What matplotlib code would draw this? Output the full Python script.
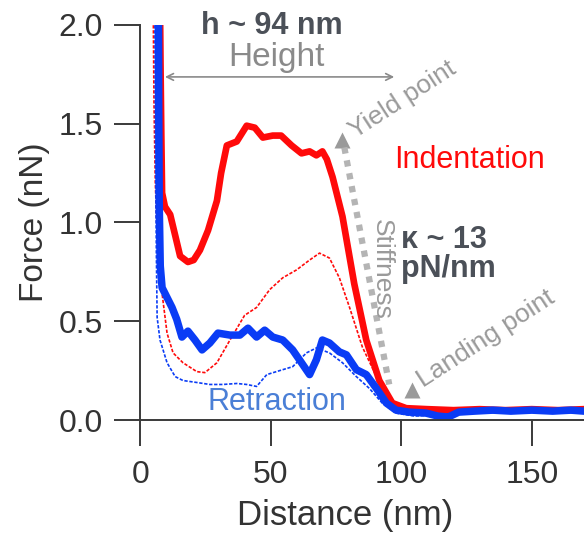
import numpy as np
import matplotlib
matplotlib.use('Agg')
import matplotlib.pyplot as plt

plt.rcParams['font.family'] = ['Liberation Sans', 'DejaVu Sans']

# indentation (thick red) trace
ind_x = [7.6, 7.8, 8.1, 8.4, 9.5, 11.5, 13.5, 15.3, 18.3, 20.5, 22.9, 26.0, 29.4, 31.0,
         33.2, 37.0, 40.8, 43.9, 47.0, 50.8, 54.0, 58.0, 61.8, 64.9, 67.5, 69.8, 71.5,
         73.7, 77.5, 82.0, 86.6, 91.6, 96.6, 101.9, 110, 120, 130, 140, 150, 160, 170]
ind_y = [2.1, 1.8, 1.45, 1.15, 1.08, 1.04, 0.93, 0.83, 0.80, 0.81, 0.86, 0.96, 1.11, 1.25,
         1.39, 1.41, 1.49, 1.48, 1.43, 1.44, 1.44, 1.39, 1.35, 1.36, 1.34, 1.36, 1.32,
         1.23, 1.03, 0.69, 0.405, 0.20, 0.086, 0.06, 0.055, 0.05, 0.055, 0.05, 0.055, 0.05, 0.055]

# second indentation (thin dashed red)
ind2_x = [5.0, 5.3, 5.8, 6.6, 7.6, 8.4, 10.3, 12.6, 16.4, 21.7, 24.8, 29.4, 34.4, 40.0,
          44.6, 49.6, 54.6, 59.9, 64.9, 68.7, 72.5, 76.3, 80.2, 85.1, 90.5, 94.3, 98.0,
          105, 115, 125, 135, 145, 155, 165, 170]
ind2_y = [2.1, 1.6, 1.2, 0.9, 0.72, 0.64, 0.44, 0.34, 0.29, 0.245, 0.24, 0.29, 0.405, 0.53,
          0.57, 0.66, 0.72, 0.76, 0.81, 0.845, 0.82, 0.72, 0.57, 0.37, 0.22, 0.12, 0.06,
          0.045, 0.04, 0.045, 0.04, 0.045, 0.04, 0.045, 0.04]

# retraction (thick blue) trace
ret_x = [7.0, 7.1, 7.3, 7.7, 8.4, 10.3, 12.2, 14.0, 16.0, 18.3, 21.0, 23.7, 26.7, 29.8,
         34.4, 38.2, 41.3, 44.6, 47.7, 50.8, 54.6, 58.4, 61.8, 64.9, 67.5, 69.8, 72.5,
         76.3, 79.0, 82.8, 86.6, 90.5, 94.3, 98.0, 103, 109.5, 114, 118, 122, 128, 135,
         142, 150, 158, 165, 170]
ret_y = [2.1, 1.6, 1.1, 0.78, 0.67, 0.62, 0.57, 0.51, 0.42, 0.45, 0.405, 0.355, 0.39, 0.44,
         0.43, 0.43, 0.465, 0.42, 0.455, 0.42, 0.405, 0.355, 0.29, 0.23, 0.305, 0.405, 0.39,
         0.345, 0.33, 0.255, 0.23, 0.16, 0.086, 0.05, 0.04, 0.035, 0.02, 0.015, 0.04, 0.045, 0.05,
         0.045, 0.05, 0.045, 0.05, 0.045]

# second retraction (thin dashed blue)
ret2_x = [5.6, 5.9, 6.2, 6.5, 7.6, 10.3, 13.4, 16.4, 21.7, 26.7, 31.7, 37.0, 40.8, 44.6,
          48.5, 53.4, 58.4, 63.7, 67.5, 72.5, 77.5, 82.8, 87.8, 92.7, 98.0, 105, 112, 120,
          130, 140, 150, 160, 170]
ret2_y = [2.1, 1.4, 0.85, 0.52, 0.405, 0.29, 0.22, 0.2, 0.19, 0.18, 0.18, 0.185, 0.18, 0.17,
          0.23, 0.25, 0.27, 0.34, 0.365, 0.34, 0.29, 0.22, 0.16, 0.086, 0.035, 0.02, 0.025, 0.035,
          0.04, 0.035, 0.04, 0.035, 0.04]

x_ticks = [0, 50, 100, 150]
y_ticks = [0.0, 0.5, 1.0, 1.5, 2.0]

RED = '#ff0a0a'
BLUE = '#0a3cf5'
GRAY = '#9a9a9a'
DARK = '#4b5058'
AX = '#3a3a3a'

fig = plt.figure(figsize=(5.84, 5.51), dpi=100)
ax = fig.add_axes([0.24, 0.2377, 0.76, 0.717])

ax.plot(ind2_x, ind2_y, color=RED, lw=1.2, ls=(0, (2, 1)))
ax.plot(ret2_x, ret2_y, color=BLUE, lw=1.2, ls=(0, (2, 1)))
ax.plot(ind_x, ind_y, color=RED, lw=4.8, solid_joinstyle='round')
ax.plot(ret_x, ret_y, color=BLUE, lw=5.4, solid_joinstyle='round')

ax.set_xlim(0, 170)
ax.set_ylim(0, 2.0)
ax.set_xticks(x_ticks)
ax.set_yticks(y_ticks)
ax.set_yticklabels(['%.1f' % v for v in y_ticks])
ax.spines['top'].set_visible(False)
ax.spines['right'].set_visible(False)
for s in ['left', 'bottom']:
    ax.spines[s].set_linewidth(1.4)
    ax.spines[s].set_color(AX)
ax.tick_params(axis='both', length=19, width=1.4, color=AX, labelsize=23, labelcolor='#333333')
ax.tick_params(axis='y', pad=8)
ax.tick_params(axis='x', pad=10)
ax.set_xlabel('Distance (nm)', fontsize=25, color='#333333', labelpad=6)
ax.xaxis.label.set_x(0.4625)
ax.set_ylabel('Force (nN)', fontsize=24, color='#333333', labelpad=6)

# annotations
ax.text(50.4, 1.995, 'h ~ 94 nm', fontsize=22, fontweight='bold', color=DARK,
        ha='center', va='center', clip_on=False)
ax.text(52.3, 1.833, 'Height', fontsize=24, color='#8a8a8a', ha='center', va='center')
ax.annotate('', xy=(9.5, 1.737), xytext=(97.3, 1.737),
            arrowprops=dict(arrowstyle='<->', color='#8a8a8a', lw=1.2, mutation_scale=12,
                            shrinkA=0, shrinkB=0))

ax.plot([77.5], [1.418], marker='^', ms=11, color=GRAY, mec='none')
ax.text(83.5, 1.40, 'Yield point', fontsize=19, color=GRAY, rotation=33,
        rotation_mode='anchor', ha='left', va='bottom', clip_on=False)
ax.plot([104.0], [0.152], marker='^', ms=11, color=GRAY, mec='none')
ax.text(109.5, 0.14, 'Landing point', fontsize=19, color=GRAY, rotation=33,
        rotation_mode='anchor', ha='left', va='bottom')
ax.plot([78.2, 95.4], [1.38, 0.18], color='#b4b4b4', lw=4.5, ls=(0, (1, 1.1)))
ax.text(92.7, 0.76, 'Stiffness', fontsize=19, color=GRAY, rotation=-90,
        ha='center', va='center')

ax.text(126.3, 1.316, 'Indentation', fontsize=22, color=RED, ha='center', va='center')
ax.text(100.0, 0.985, 'κ ~ 13\npN/nm', fontsize=22, fontweight='bold', color=DARK,
        ha='left', va='top', linespacing=0.95)
ax.text(52.3, 0.091, 'Retraction', fontsize=22, color='#4a7fd6', ha='center', va='center')

fig.savefig('out.png', dpi=100)
